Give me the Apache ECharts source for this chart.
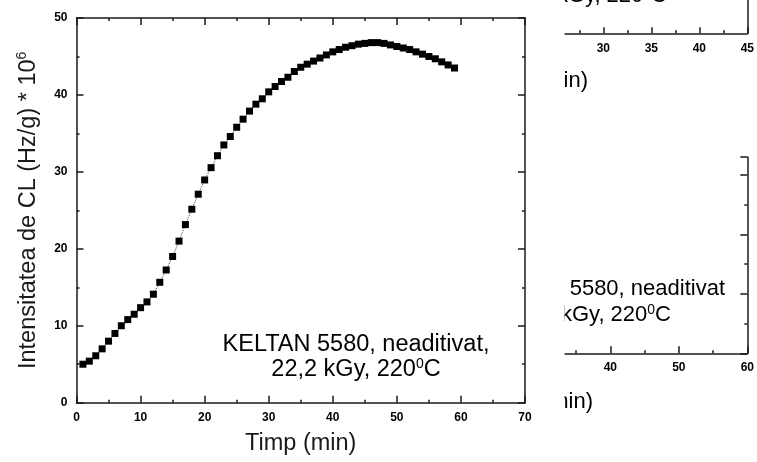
<!DOCTYPE html>
<html>
<head>
<meta charset="utf-8">
<script src="https://cdn.jsdelivr.net/npm/echarts@6/dist/echarts.min.js"></script>
<style>
  html, body { margin: 0; padding: 0; background: #fff; }
  #chart { width: 757px; height: 462px; }
</style>
</head>
<body>
<div id="chart"></div>
<script>
// timp (min) and CL intensity (Hz/g * 10^6)
const timeMin = [
  1, 2, 3, 4, 5, 6, 7, 8, 9, 10,
  11, 12, 13, 14, 15, 16, 17, 18, 19, 20,
  21, 22, 23, 24, 25, 26, 27, 28, 29, 30,
  31, 32, 33, 34, 35, 36, 37, 38, 39, 40,
  41, 42, 43, 44, 45, 46, 47, 48, 49, 50,
  51, 52, 53, 54, 55, 56, 57, 58, 59
]
const intensity = [
  5.0, 5.4, 6.1, 7.0, 8.0, 9.0, 10.0, 10.8, 11.5, 12.35,
  13.1, 14.1, 15.65, 17.25, 19.0, 21.0, 23.15, 25.15, 27.1, 28.95,
  30.55, 32.1, 33.5, 34.6, 35.8, 36.85, 37.9, 38.8, 39.5, 40.4,
  41.1, 41.75, 42.3, 43.05, 43.6, 44.0, 44.4, 44.8, 45.2, 45.6,
  45.9, 46.2, 46.4, 46.6, 46.7, 46.8, 46.8, 46.7, 46.5, 46.3,
  46.1, 45.9, 45.6, 45.3, 45.0, 44.7, 44.3, 43.9, 43.5
]

const xRange = [0, 70]
const yRange = [0, 50]
// pieces of the neighbouring plots that show at the right edge
const fragTopX = [25, 45]
const fragMidX = [30, 60]
const fragMidY = [0, 33.05]

const xTitle = 'Timp (min)'
const yTitle = 'Intensitatea de CL (Hz/g) * 10'
const noteLine1 = 'KELTAN 5580, neaditivat,'
const noteLine2 = '22,2 kGy, 220'

const FONT = "'Liberation Sans', Arial, sans-serif"
const INK = '#1a1a1a'

const chart = echarts.init(document.getElementById('chart'))

const tickFont = { color: '#000', fontSize: 12, fontWeight: 'bold', fontFamily: FONT }

const frame = (extra) => Object.assign({
  axisLine: { show: true, onZero: false, lineStyle: { color: INK, width: 1.5 } },
  axisTick: { show: true, inside: true, length: 7, lineStyle: { color: INK, width: 1.5 } },
  minorTick: { show: true, splitNumber: 2, length: 3, lineStyle: { color: INK, width: 1.5 } },
  splitLine: { show: false },
  axisLabel: Object.assign({ show: true, margin: 9 }, tickFont)
}, extra)

const hidden = { show: false }

const bigText = { fontFamily: FONT, fontSize: 23.5, color: INK }
const fragText = { fontFamily: FONT, fontSize: 22, color: INK }
const supText = { fontFamily: FONT, fontSize: 14, color: INK, verticalAlign: 'top', lineHeight: 12 }

const option = {
  animation: false,
  backgroundColor: '#fff',
  grid: [
    { left: 76.5, right: 232, top: 18, bottom: 59.3 },
    { left: 555.3, right: 5.3, top: -5, bottom: 428.7 },
    { left: 541.8, right: 7.7, top: 157, bottom: 108.7 }
  ],
  xAxis: [
    frame({
      type: 'value', gridIndex: 0, position: 'bottom',
      min: xRange[0], max: xRange[1], interval: 10,
      name: xTitle, nameLocation: 'middle', nameGap: 29,
      nameTextStyle: bigText
    }),
    frame({
      type: 'value', gridIndex: 0, position: 'top',
      min: xRange[0], max: xRange[1], interval: 10,
      axisLabel: hidden
    }),
    frame({
      type: 'value', gridIndex: 1, position: 'bottom',
      min: fragTopX[0], max: fragTopX[1], interval: 5,
      axisTick: { show: true, inside: true, length: 6, lineStyle: { color: INK, width: 1.5 } },
      axisLabel: Object.assign({ show: true, margin: 9, showMinLabel: false }, tickFont)
    }),
    frame({
      type: 'value', gridIndex: 2, position: 'bottom',
      min: fragMidX[0], max: fragMidX[1], interval: 10,
      axisLabel: Object.assign({ show: true, margin: 8, showMinLabel: false }, tickFont)
    })
  ],
  yAxis: [
    frame({
      type: 'value', gridIndex: 0, position: 'left',
      min: yRange[0], max: yRange[1], interval: 10,
      name: '{a|' + yTitle + '}{s|6}',
      nameLocation: 'middle', nameGap: 35,
      nameTextStyle: { rich: { a: Object.assign({ lineHeight: 26 }, bigText), s: supText } }
    }),
    frame({
      type: 'value', gridIndex: 0, position: 'right',
      min: yRange[0], max: yRange[1], interval: 10,
      axisLabel: hidden
    }),
    frame({
      type: 'value', gridIndex: 1, position: 'right',
      min: 0, max: 1,
      axisTick: hidden, minorTick: hidden, axisLabel: hidden
    }),
    frame({
      type: 'value', gridIndex: 2, position: 'right',
      min: fragMidY[0], max: fragMidY[1], interval: 10,
      axisLabel: hidden
    })
  ],
  series: [
    {
      type: 'line',
      xAxisIndex: 0,
      yAxisIndex: 0,
      data: timeMin.map((t, i) => [t, intensity[i]]),
      symbol: 'rect',
      symbolSize: 7,
      itemStyle: { color: '#000' },
      lineStyle: { color: '#444', width: 1, type: 'dotted' }
    }
  ],
  graphic: [
    // annotation inside the main plot
    {
      type: 'text', x: 356, y: 345,
      style: Object.assign({ text: noteLine1, align: 'center', verticalAlign: 'middle' }, bigText)
    },
    {
      type: 'text', x: 356, y: 370,
      style: {
        text: '{a|' + noteLine2 + '}{s|0}{a|C}',
        align: 'center', verticalAlign: 'middle',
        rich: { a: Object.assign({ lineHeight: 26 }, bigText), s: supText }
      }
    },
    // text of the cropped neighbouring plots
    {
      type: 'text', x: 667, y: 8,
      style: {
        text: '{a|kGy, 220}{s|0}{a|C}', align: 'right', verticalAlign: 'bottom',
        rich: { a: Object.assign({ lineHeight: 24 }, fragText), s: supText }
      }
    },
    {
      type: 'text', x: 588, y: 81,
      style: Object.assign({ text: 'min)', align: 'right', verticalAlign: 'middle' }, fragText)
    },
    {
      type: 'text', x: 725, y: 289,
      style: Object.assign({ text: '5580, neaditivat', align: 'right', verticalAlign: 'middle' }, fragText)
    },
    {
      type: 'text', x: 671, y: 315,
      style: {
        text: '{a|kGy, 220}{s|0}{a|C}', align: 'right', verticalAlign: 'middle',
        rich: { a: Object.assign({ lineHeight: 24 }, fragText), s: supText }
      }
    },
    {
      type: 'text', x: 593, y: 402,
      style: Object.assign({ text: 'min)', align: 'right', verticalAlign: 'middle' }, fragText)
    },
    // white strip where the main picture covers the neighbours
    {
      type: 'rect', z: 100, silent: true,
      shape: { x: 536, y: 0, width: 28.5, height: 462 },
      style: { fill: '#fff' }
    }
  ]
}

chart.setOption(option)
</script>
</body>
</html>
